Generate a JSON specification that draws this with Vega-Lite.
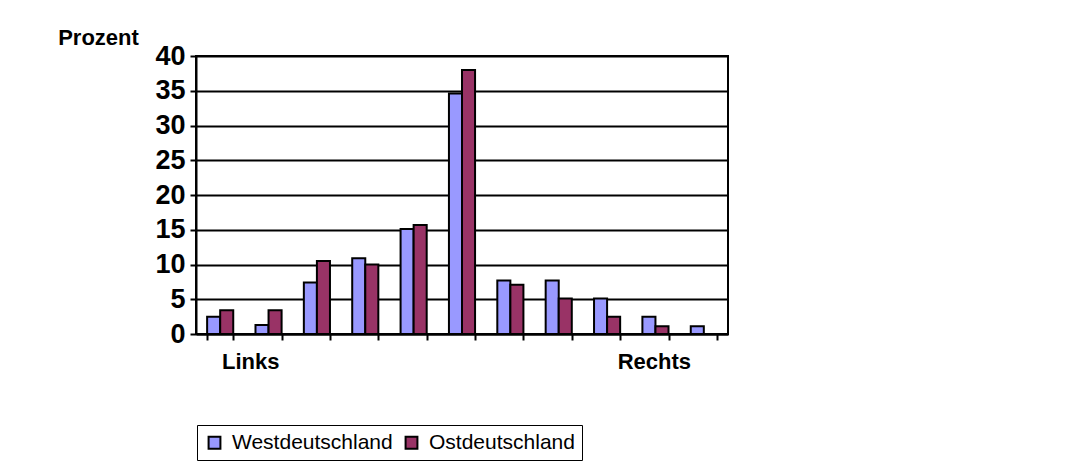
{
  "$schema": "https://vega.github.io/schema/vega-lite/v6.json",
  "width": 532,
  "height": 278,
  "autosize": {"type": "none"},
  "padding": {"left": 196, "top": 56, "right": 348, "bottom": 138},
  "background": "white",
  "data": {
    "values": [
      {"cat": 1, "series": "Westdeutschland", "value": 2.5},
      {"cat": 1, "series": "Ostdeutschland", "value": 3.4},
      {"cat": 2, "series": "Westdeutschland", "value": 1.3},
      {"cat": 2, "series": "Ostdeutschland", "value": 3.4},
      {"cat": 3, "series": "Westdeutschland", "value": 7.4},
      {"cat": 3, "series": "Ostdeutschland", "value": 10.5},
      {"cat": 4, "series": "Westdeutschland", "value": 10.9},
      {"cat": 4, "series": "Ostdeutschland", "value": 10.0},
      {"cat": 5, "series": "Westdeutschland", "value": 15.1},
      {"cat": 5, "series": "Ostdeutschland", "value": 15.7},
      {"cat": 6, "series": "Westdeutschland", "value": 34.6},
      {"cat": 6, "series": "Ostdeutschland", "value": 38.0},
      {"cat": 7, "series": "Westdeutschland", "value": 7.7},
      {"cat": 7, "series": "Ostdeutschland", "value": 7.1},
      {"cat": 8, "series": "Westdeutschland", "value": 7.7},
      {"cat": 8, "series": "Ostdeutschland", "value": 5.1},
      {"cat": 9, "series": "Westdeutschland", "value": 5.1},
      {"cat": 9, "series": "Ostdeutschland", "value": 2.5},
      {"cat": 10, "series": "Westdeutschland", "value": 2.5},
      {"cat": 10, "series": "Ostdeutschland", "value": 1.1},
      {"cat": 11, "series": "Westdeutschland", "value": 1.1},
      {"cat": 11, "series": "Ostdeutschland", "value": 0}
    ]
  },
  "mark": {"type": "bar", "stroke": "black", "strokeWidth": 2},
  "encoding": {
    "x": {
      "field": "cat",
      "type": "ordinal",
      "scale": {"paddingInner": 0.46, "paddingOuter": 0.23},
      "axis": {
        "title": null,
        "tickBand": "extent",
        "labelAngle": 0,
        "labelExpr": "datum.value == 1 ? 'Links' : (datum.value == 11 ? 'Rechts' : '')",
        "labelOffset": {"condition": {"test": "datum.value == 1", "value": 30}, "value": -50},
        "labelFont": "Liberation Sans",
        "labelFontWeight": "bold",
        "labelFontSize": 22,
        "labelColor": "black",
        "labelBaseline": "alphabetic",
        "labelPadding": 28,
        "tickColor": "black",
        "tickSize": 6,
        "tickWidth": 2,
        "domainColor": "black",
        "domainWidth": 2
      }
    },
    "xOffset": {"field": "series", "type": "nominal", "sort": ["Westdeutschland", "Ostdeutschland"], "scale": {"paddingInner": 0, "paddingOuter": 0}},
    "y": {
      "field": "value",
      "type": "quantitative",
      "scale": {"domain": [0, 40], "nice": false},
      "axis": {
        "values": [0, 5, 10, 15, 20, 25, 30, 35, 40],
        "title": "Prozent",
        "titleAngle": 0,
        "titleFont": "Liberation Sans",
        "titleFontWeight": "bold",
        "titleFontSize": 22,
        "titleColor": "black",
        "titleAlign": "center",
        "titleBaseline": "alphabetic",
        "titleX": -98,
        "titleY": -12,
        "labelFont": "Liberation Sans",
        "labelFontWeight": "bold",
        "labelFontSize": 27,
        "labelColor": "black",
        "labelPadding": 5,
        "tickColor": "black",
        "tickSize": 6,
        "tickWidth": 2,
        "domainColor": "black",
        "domainWidth": 2,
        "grid": true,
        "gridColor": "black",
        "gridWidth": 2,
        "gridOpacity": 1
      }
    },
    "color": {
      "field": "series",
      "type": "nominal",
      "scale": {"domain": ["Westdeutschland", "Ostdeutschland"], "range": ["#9999FF", "#993366"]},
      "legend": {
        "title": null,
        "orient": "none",
        "direction": "horizontal",
        "legendX": 1,
        "legendY": 369,
        "strokeColor": "black",
        "fillColor": "white",
        "padding": 7,
        "symbolType": "square",
        "symbolSize": 140,
        "symbolStrokeColor": "black",
        "symbolStrokeWidth": 2,
        "labelFont": "Liberation Sans",
        "labelFontSize": 21,
        "labelColor": "black",
        "labelOffset": 7,
        "columnPadding": 8,
        "labelLimit": 300
      }
    }
  },
  "config": {
    "view": {"stroke": "black", "strokeWidth": 2}
  }
}
